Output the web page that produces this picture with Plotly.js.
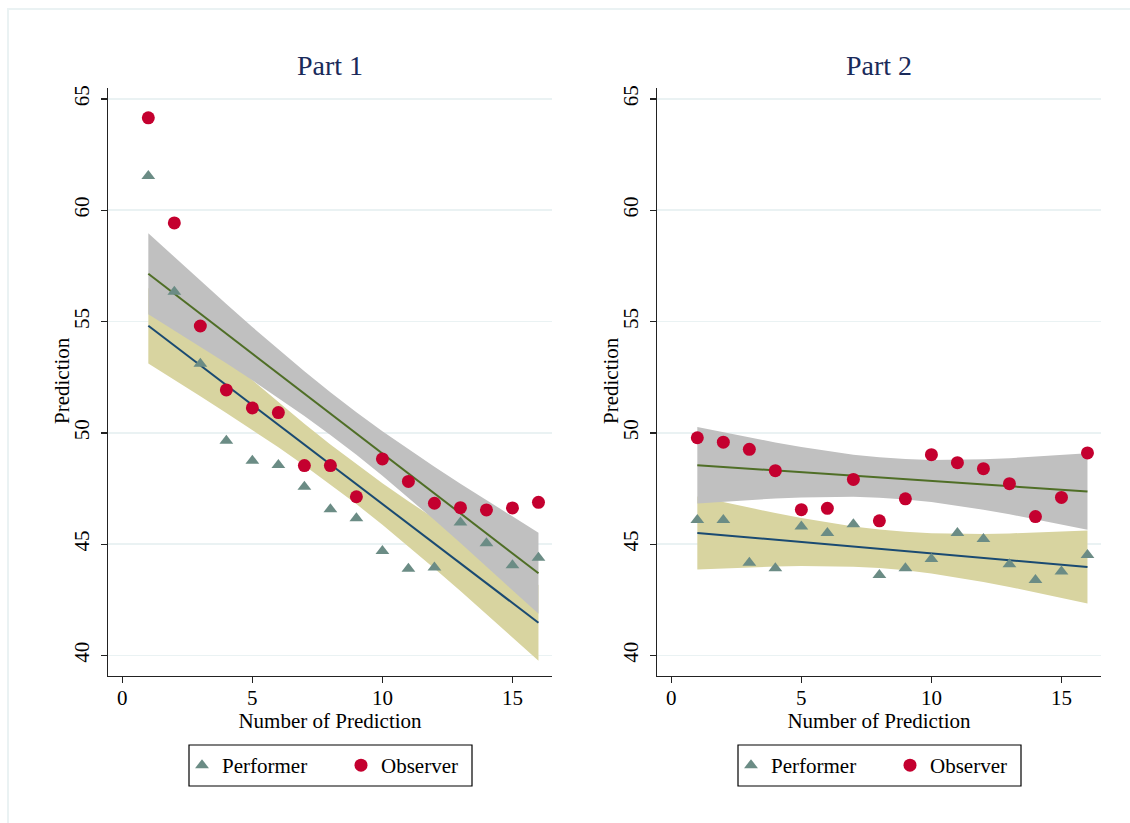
<!DOCTYPE html>
<html><head><meta charset="utf-8">
<script src="https://cdn.plot.ly/plotly-3.0.1.min.js"></script>
<style>html,body{margin:0;padding:0;background:#fff;} #chart{width:1130px;height:823px;}</style>
</head><body><div id="chart"></div>
<script>
// ---- data ----
const predictionNumber = [1,2,3,4,5,6,7,8,9,10,11,12,13,14,15,16];
const part1Performer = [61.54,56.34,53.10,49.65,48.75,48.56,47.58,46.57,46.16,44.69,43.90,43.95,45.97,45.04,44.05,44.39];
const part1Observer  = [64.15,59.43,54.80,51.93,51.12,50.91,48.53,48.53,47.13,48.83,47.82,46.84,46.64,46.54,46.63,46.88];
const part2Performer = [46.09,46.09,44.17,43.92,45.80,45.50,45.90,43.62,43.92,44.34,45.50,45.23,44.10,43.39,43.77,44.51];
const part2Observer  = [49.78,49.58,49.26,48.30,46.55,46.61,47.91,46.05,47.04,49.02,48.66,48.39,47.72,46.24,47.10,49.10];
// half-width of the 95% CI band at the ends of the fitted range
const part1PerformerCiEnd = 1.70;
const part1ObserverCiEnd  = 1.82;
const part2PerformerCiEnd = 1.64;
const part2ObserverCiEnd  = 1.72;
const yTicks = [40,45,50,55,60,65];
const xTicks = [0,5,10,15];
const panelTitles = ['Part 1','Part 2'];
const seriesNames = ['Performer','Observer'];
const xTitle = 'Number of Prediction';
const yTitle = 'Prediction';

// ---- styles ----
const FONT = 'Liberation Serif, Times New Roman, serif';
const C = {
  perfMarker:'#6b8c85', obsMarker:'#c4002f',
  perfBand:'#d8d4a0', obsBand:'#c0c0c0',
  perfLine:'#1a4a72', obsLine:'#4f6e26',
  grid:'#eaf2f3', axis:'#222'
};

function ols(x,y){
  const n=x.length; const mx=x.reduce((a,b)=>a+b,0)/n; const my=y.reduce((a,b)=>a+b,0)/n;
  let sxx=0,sxy=0; for(let i=0;i<n;i++){sxx+=(x[i]-mx)**2; sxy+=(x[i]-mx)*(y[i]-my);}
  const b=sxy/sxx, a=my-b*mx; return {a,b,mx,sxx,n};
}
function fitTraces(x,y,ciEnd,bandColor,lineColor,xa,ya){
  const f=ols(x,y);
  const se = xi=>Math.sqrt(1/f.n+(xi-f.mx)**2/f.sxx);
  const scale=ciEnd/se(x[0]);
  const yhat=x.map(xi=>f.a+f.b*xi);
  const up=x.map((xi,i)=>yhat[i]+scale*se(xi));
  const lo=x.map((xi,i)=>yhat[i]-scale*se(xi));
  const band={x:x.concat(x.slice().reverse()), y:up.concat(lo.slice().reverse()), type:'scatter', mode:'lines',
    fill:'toself', fillcolor:bandColor, line:{width:0,color:bandColor}, showlegend:false, hoverinfo:'skip', xaxis:xa, yaxis:ya};
  const line={x:x, y:yhat, type:'scatter', mode:'lines', line:{color:lineColor,width:2}, showlegend:false, xaxis:xa, yaxis:ya};
  return [band,line];
}
function scatter(x,y,name,sym,color,size,xa,ya,lg){
  return {x:x,y:y,name:name,type:'scatter',mode:'markers',marker:{symbol:sym,color:color,size:size,line:{width:0}},
    xaxis:xa,yaxis:ya,legend:lg};
}

const traces=[].concat(
  fitTraces(predictionNumber,part1Performer,part1PerformerCiEnd,C.perfBand,C.perfLine,'x','y'),
  fitTraces(predictionNumber,part1Observer,part1ObserverCiEnd,C.obsBand,C.obsLine,'x','y'),
  [scatter(predictionNumber,part1Performer,seriesNames[0],'triangle-up',C.perfMarker,12,'x','y','legend'),
   scatter(predictionNumber,part1Observer,seriesNames[1],'circle',C.obsMarker,13,'x','y','legend')],
  fitTraces(predictionNumber,part2Performer,part2PerformerCiEnd,C.perfBand,C.perfLine,'x2','y2'),
  fitTraces(predictionNumber,part2Observer,part2ObserverCiEnd,C.obsBand,C.obsLine,'x2','y2'),
  [scatter(predictionNumber,part2Performer,seriesNames[0],'triangle-up',C.perfMarker,12,'x2','y2','legend2'),
   scatter(predictionNumber,part2Observer,seriesNames[1],'circle',C.obsMarker,13,'x2','y2','legend2')]
);

const L=108,R=29,T=88,B=147,W=1130,H=823;
const pw=W-L-R, ph=H-T-B;
const d1=[0,(552-L)/pw], d2=[(657-L)/pw,1];
function px2x(p){return (p-L)/pw;} function py2y(p){return (H-B-p)/ph;}

function xax(dom,anchor){return {domain:dom,anchor:anchor,range:[-0.55,16.52],tickvals:xTicks,ticks:'outside',ticklen:6,tickwidth:1.3,tickcolor:C.axis,
  showline:true,linecolor:C.axis,linewidth:1.3,showgrid:false,zeroline:false,tickfont:{size:21},ticklabelstandoff:-4,
  title:{text:xTitle,font:{size:21},standoff:1},automargin:false};}
function yax(anchor){return {domain:[0,1],anchor:anchor,range:[39.08,65.49],tickvals:yTicks,tickangle:-90,ticks:'outside',ticklen:6,tickwidth:1.3,tickcolor:C.axis,
  showline:true,linecolor:C.axis,linewidth:1.3,showgrid:true,gridcolor:C.grid,gridwidth:1.5,zeroline:false,tickfont:{size:21},ticklabelstandoff:3,
  automargin:false};}
function leg(leftPx){return {orientation:'h',x:px2x(leftPx),xanchor:'left',y:py2y(745),yanchor:'top',borderwidth:0,
  bgcolor:'rgba(0,0,0,0)',font:{size:21,family:FONT,color:'#000'},itemclick:false,entrywidth:114,entrywidthmode:'pixels'};}
function legBox(x0,x1){return {type:'rect',xref:'paper',yref:'paper',x0:px2x(x0),x1:px2x(x1),y0:py2y(745),y1:py2y(786),
  line:{color:'#000',width:1.2},fillcolor:'rgba(0,0,0,0)',layer:'above'};}
function yTitleAnn(px){return {text:yTitle,xref:'paper',yref:'paper',x:px2x(px),y:py2y(381),xanchor:'center',yanchor:'middle',textangle:-90,showarrow:false,font:{size:21,color:'#000'}};}
function panelTitle(t,dom){return {text:t,xref:'paper',yref:'paper',x:(dom[0]+dom[1])/2,y:py2y(65),xanchor:'center',yanchor:'middle',showarrow:false,font:{size:28,color:'#1a2a5a'}};}

const layout={
  width:W,height:H,margin:{l:L,r:R,t:T,b:B},paper_bgcolor:'#fff',plot_bgcolor:'#fff',
  font:{family:FONT,color:'#000',size:21},
  xaxis:xax(d1,'y'), yaxis:yax('x'),
  xaxis2:xax(d2,'y2'), yaxis2:yax('x2'),
  legend:leg(182), legend2:leg(731),
  annotations:[panelTitle(panelTitles[0],d1), panelTitle(panelTitles[1],d2), yTitleAnn(62), yTitleAnn(611)],
  shapes:[
    {type:'line',xref:'paper',yref:'paper',x0:px2x(7),x1:px2x(1140),y0:py2y(9),y1:py2y(9),line:{color:C.grid,width:2}},
    {type:'line',xref:'paper',yref:'paper',x0:px2x(8),x1:px2x(8),y0:py2y(9),y1:py2y(840),line:{color:C.grid,width:2}},
    legBox(189,472), legBox(738,1021)
  ]
};
Plotly.newPlot('chart',traces,layout,{staticPlot:true,displayModeBar:false});
</script></body></html>
